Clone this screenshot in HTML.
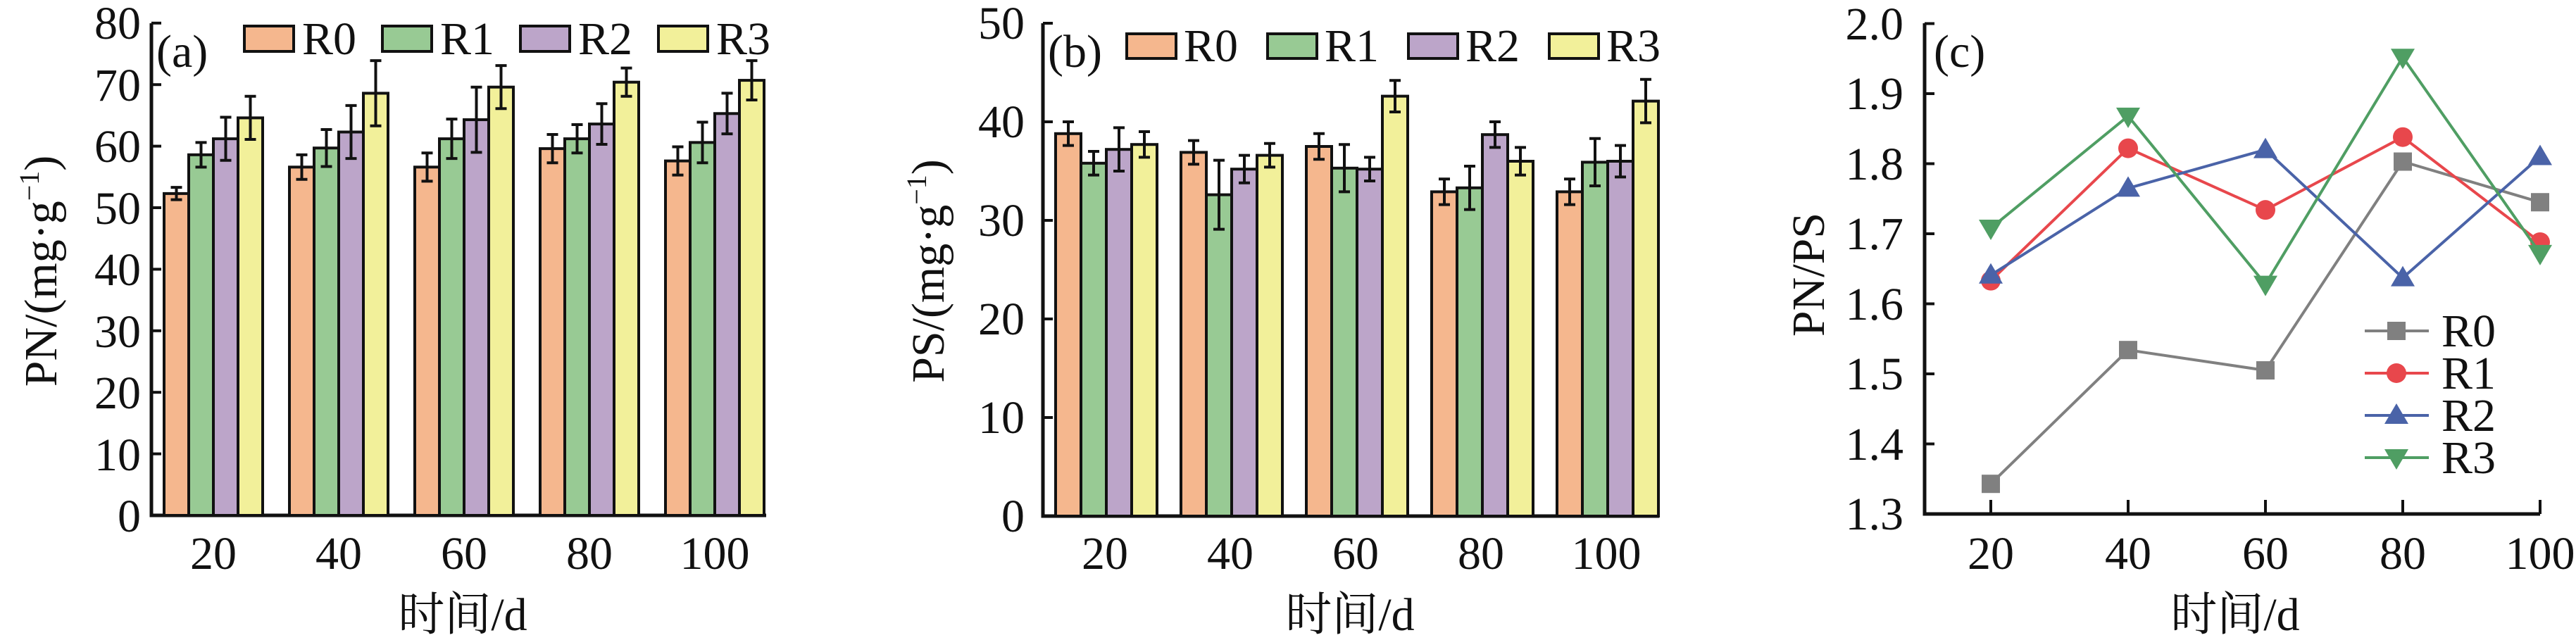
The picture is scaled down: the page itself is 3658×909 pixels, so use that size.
<!DOCTYPE html>
<html><head><meta charset="utf-8"><style>
html,body{margin:0;padding:0;background:#fff;}
svg{display:block;}
svg text{font-family:"Liberation Serif","DejaVu Serif","Noto Serif CJK SC",serif;fill:#111;}
</style></head><body>
<svg id="s" width="3658" height="909" viewBox="0 0 3658 909" xmlns="http://www.w3.org/2000/svg" font-family="Liberation Serif, DejaVu Serif, Noto Serif CJK SC, serif">
<g font-size="66">
<!-- Panel a -->
<g text-anchor="end">
<text x="200" y="755">0</text><text x="200" y="668">10</text><text x="200" y="580">20</text><text x="200" y="493">30</text><text x="200" y="405">40</text><text x="200" y="318">50</text><text x="200" y="230">60</text><text x="200" y="143">70</text><text x="200" y="55">80</text>
</g>
<g text-anchor="middle">
<text x="303" y="808">20</text><text x="481" y="808">40</text><text x="659" y="808">60</text><text x="837" y="808">80</text><text x="1015" y="808">100</text>
<text x="657" y="895">时间/d</text>
<text transform="translate(80,385) rotate(-90)">PN/(mg·g<tspan font-size="40" dy="-25">−1</tspan><tspan dy="25">)</tspan></text>
</g>
<text x="222" y="95">(a)</text>
<!-- Panel b -->
<g text-anchor="end">
<text x="1455" y="755">0</text><text x="1455" y="615">10</text><text x="1455" y="475">20</text><text x="1455" y="335">30</text><text x="1455" y="195">40</text><text x="1455" y="55">50</text>
</g>
<g text-anchor="middle">
<text x="1569" y="808">20</text><text x="1747" y="808">40</text><text x="1925" y="808">60</text><text x="2103" y="808">80</text><text x="2281" y="808">100</text>
<text x="1917" y="895">时间/d</text>
<text transform="translate(1340,385) rotate(-90)">PS/(mg·g<tspan font-size="40" dy="-25">−1</tspan><tspan dy="25">)</tspan></text>
</g>
<text x="1488" y="95">(b)</text>
<!-- Panel c -->
<g text-anchor="end">
<text x="2703" y="752">1.3</text><text x="2703" y="653">1.4</text><text x="2703" y="553">1.5</text><text x="2703" y="454">1.6</text><text x="2703" y="354">1.7</text><text x="2703" y="255">1.8</text><text x="2703" y="155">1.9</text><text x="2703" y="56">2.0</text>
</g>
<g text-anchor="middle">
<text x="2827" y="808">20</text><text x="3022" y="808">40</text><text x="3217" y="808">60</text><text x="3412" y="808">80</text><text x="3607" y="808">100</text>
<text x="3174" y="895">时间/d</text>
<text transform="translate(2590,390) rotate(-90)">PN/PS</text>
</g>
<text x="2746" y="95">(c)</text>
<text x="3467" y="492">R0</text><text x="3467" y="552">R1</text><text x="3467" y="612">R2</text><text x="3467" y="672">R3</text>
<text x="429" y="77">R0</text><text x="625" y="77">R1</text><text x="821" y="77">R2</text><text x="1017" y="77">R3</text>
<text x="1681" y="87">R0</text><text x="1881" y="87">R1</text><text x="2081" y="87">R2</text><text x="2281" y="87">R3</text>
</g>
<g id="dyn"></g>
</svg>
<script>
var C=["#F5B78E","#98CA94","#BCA5C9","#F2F09A"];
var h="";
function bars(x0,y0,sc,yTopPx,axR,ticks,vals,errs,bw,lx,ly,lp,lh){
 h+='<path d="M'+x0+' '+yTopPx+' V'+y0+' H'+axR+'" fill="none" stroke="#111" stroke-width="5"/>';
 ticks.forEach(function(t){var y=y0-t*sc;h+='<line x1="'+x0+'" x2="'+(x0+14)+'" y1="'+y+'" y2="'+y+'" stroke="#111" stroke-width="4"/>';});
 for(var g=0;g<5;g++)for(var k=0;k<4;k++){
  var x=x0+18+g*178+k*bw, v=vals[g][k], y=y0-v*sc;
  h+='<rect x="'+x+'" y="'+y+'" width="'+bw+'" height="'+(y0-y)+'" fill="'+C[k]+'" stroke="#111" stroke-width="4"/>';
  var e=errs[g][k]*sc,cx=x+bw/2;
  h+='<path d="M'+cx+' '+(y-e)+' V'+(y+e)+' M'+(cx-8)+' '+(y-e)+' H'+(cx+8)+' M'+(cx-8)+' '+(y+e)+' H'+(cx+8)+'" stroke="#111" stroke-width="4" fill="none"/>';
 }
 for(var k=0;k<4;k++)h+='<rect x="'+(lx+k*lp)+'" y="'+ly+'" width="70" height="'+lh+'" fill="'+C[k]+'" stroke="#111" stroke-width="4"/>';
}
bars(215,732,8.74,33,1088,[10,20,30,40,50,60,70,80],
 [[52.3,58.6,61.2,64.6],[56.6,59.7,62.3,68.6],[56.6,61.2,64.3,69.6],[59.6,61.2,63.6,70.4],[57.6,60.6,65.3,70.7]],
 [[1,2,3.5,3.5],[2,3,4.3,5.3],[2.3,3.2,5.3,3.5],[2.3,2.3,3.3,2.3],[2.3,3.3,3.3,3.2]],35,347,37,196,36);
bars(1481,733,14,33,2356,[10,20,30,40,50],
 [[38.8,35.8,37.2,37.7],[36.9,32.6,35.2,36.6],[37.5,35.3,35.2,42.6],[32.9,33.3,38.7,36.0],[32.9,35.9,36.0,42.1]],
 [[1.2,1.2,2.2,1.3],[1.2,3.5,1.4,1.2],[1.3,2.4,1.2,1.6],[1.3,2.2,1.3,1.4],[1.3,2.4,1.6,2.2]],36,1600,48,200,35);
var X0=2733,Y0=730;
h+='<path d="M'+X0+' 33 V'+Y0+' H3607" fill="none" stroke="#111" stroke-width="5"/>';
for(var i=1;i<8;i++){var y=Y0-i*99.5;h+='<line x1="'+X0+'" x2="'+(X0+14)+'" y1="'+y+'" y2="'+y+'" stroke="#111" stroke-width="4"/>';}
for(var i=0;i<5;i++){var x=2827+i*195;h+='<line x1="'+x+'" x2="'+x+'" y1="'+Y0+'" y2="'+(Y0-20)+'" stroke="#111" stroke-width="4"/>';}
var L=[["#808080",[1.343,1.534,1.505,1.803,1.745],"sq"],["#E8474C",[1.633,1.822,1.734,1.838,1.688],"ci"],["#4A63A8",[1.641,1.765,1.82,1.637,1.81],"up"],["#4F9E63",[1.708,1.868,1.628,1.952,1.672],"dn"]];
function mk(t,x,y,c){
 if(t=="sq")return '<rect x="'+(x-13)+'" y="'+(y-13)+'" width="26" height="26" fill="'+c+'"/>';
 if(t=="ci")return '<circle cx="'+x+'" cy="'+y+'" r="14" fill="'+c+'"/>';
 if(t=="up")return '<polygon points="'+x+','+(y-17)+' '+(x-17)+','+(y+12)+' '+(x+17)+','+(y+12)+'" fill="'+c+'"/>';
 return '<polygon points="'+x+','+(y+17)+' '+(x-17)+','+(y-12)+' '+(x+17)+','+(y-12)+'" fill="'+c+'"/>';
}
L.forEach(function(s,j){
 var p=s[1].map(function(v,i){return [2827+i*195,Y0-(v-1.3)*995];});
 h+='<polyline points="'+p.map(function(q){return q.join(",")}).join(" ")+'" fill="none" stroke="'+s[0]+'" stroke-width="4"/>';
 p.forEach(function(q){h+=mk(s[2],q[0],q[1],s[0]);});
 var ly=470+j*60;
 h+='<line x1="3358" x2="3449" y1="'+ly+'" y2="'+ly+'" stroke="'+s[0]+'" stroke-width="4"/>'+mk(s[2],3403,ly,s[0]);
});
document.getElementById("dyn").innerHTML=h;
</script>
</body></html>
